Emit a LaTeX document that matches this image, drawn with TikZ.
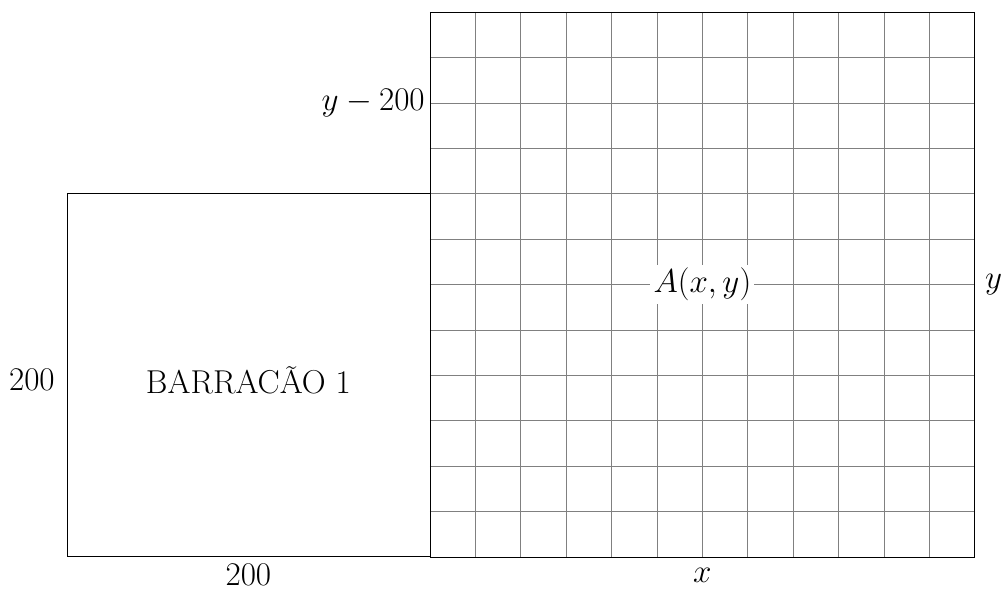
\documentclass[tikz,border=0pt]{standalone}
\begin{document}
\begin{tikzpicture}[x=1cm,y=1cm,
  lbl/.style={font=\huge, inner sep=0pt},
  gridline/.style={gray, line width=0.5pt},
  border/.style={black, line width=0.6pt}]
\useasboundingbox (-9.471,-0.727) rectangle (12.577,12.269);
\draw[gridline] (0,0) grid (12,12);
\draw[border] (0,0) rectangle (12,12);
\node[draw, border, minimum width=8cm, minimum height=8cm, anchor=south west, inner sep=0pt] (barr) at (-8,0) {};
\node[lbl] (barrtxt) at (-4,3.9) {BARRAC\~AO 1};
\node[lbl, anchor=east] (left200) at (-8.26,3.9) {200};
\node[lbl] (bot200) at (-4,-0.40) {200};
\node[lbl] (xlab) at (6,-0.40) {$x$};
\node[lbl, anchor=west] (ylab) at (12.22,6) {$y$};
\node[lbl, anchor=east] (ym) at (-0.11,10) {$y-200$};
\node[lbl, fill=white, inner sep=2pt] (A) at (6,6) {$A(x,y)$};
\end{tikzpicture}
\end{document}
